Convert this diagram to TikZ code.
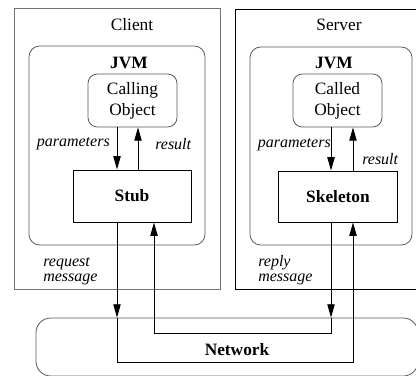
\documentclass[tikz,border=0pt]{standalone}
\usepackage{fontspec}
\setmainfont{Liberation Serif}
\usetikzlibrary{arrows.meta}
\begin{document}
\begin{tikzpicture}[x=0.75pt,y=-0.75pt,
  txt/.style={inner sep=0pt, font=\fontsize{13}{15.75}\selectfont},
  bold/.style={txt, font=\fontsize{13}{15.75}\selectfont\bfseries},
  lbl/.style={inner sep=0pt, font=\fontsize{12}{14}\selectfont\itshape},
  hostframe/.style={draw=black!55, line width=0.6pt},
  jvmbox/.style={draw=black!65, line width=0.6pt, rounded corners=8pt, inner sep=0pt},
  objbox/.style={draw=black!65, line width=0.6pt, rounded corners=7pt, inner sep=0pt, align=center,
                 font=\fontsize{13}{15.75}\selectfont},
  proxy/.style={draw, line width=0.7pt, inner sep=0pt, font=\fontsize{13}{15.75}\selectfont\bfseries},
  arr/.style={-{Triangle[length=10pt,width=5.5pt]}, line width=0.7pt},
  wire/.style={line width=0.7pt}]
\useasboundingbox (0,0) rectangle (416,375);
\fill[white] (0,0) rectangle (416,375);
\clip (0,0) rectangle (416,375);

% host machines
\node[hostframe, minimum width=154.5pt, minimum height=210.75pt] (client) at (117,148.5) {};
\draw[line width=0.7pt] (418,9) -- (235,9) -- (235,289) -- (418,289);
\node[txt] (clientlbl) at (132,25) {Client};
\node[txt] (serverlbl) at (339,25) {Server};

% virtual machines
\node[jvmbox, minimum width=132pt, minimum height=149.25pt] (cjvm) at (117,145.5) {};
\node[jvmbox, minimum width=121.5pt, minimum height=148.5pt] (sjvm) at (331,146) {};
\node[bold] (cjvmlbl) at (129,63) {JVM};
\node[bold] (sjvmlbl) at (334,63) {JVM};

% objects
\node[objbox, minimum width=66.75pt, minimum height=39.75pt] (calling) at (132.5,100.5) {Calling\\Object};
\node[objbox, minimum width=66.75pt, minimum height=39.75pt] (called) at (337.5,100.5) {Called\\Object};
\node[proxy, minimum width=88.5pt, minimum height=39pt] (stub) at (132,196) {Stub};
\node[proxy, minimum width=89.25pt, minimum height=38.25pt] (skel) at (338,196.5) {Skeleton};

% network
\node[jvmbox, rounded corners=11pt, minimum width=286.5pt, minimum height=43.5pt] (net) at (227,347) {};
\node[bold] (netlbl) at (237,350) {Network};

% local calls
\coordinate (cdn) at (117,0);
\coordinate (cup) at (138,0);
\coordinate (sdn) at (331,0);
\coordinate (sup) at (353,0);
\draw[arr] (calling.south -| cdn) -- (stub.north -| cdn);
\draw[arr] (stub.north -| cup) -- (calling.south -| cup);
\draw[arr] (called.south -| sdn) -- (skel.north -| sdn);
\draw[arr] (skel.north -| sup) -- (called.south -| sup);
\node[lbl, anchor=east] (cpar) at (110,144) {parameters};
\node[lbl, anchor=west] (cres) at (155,144) {result};
\node[lbl, anchor=east] (spar) at (331,145) {parameters};
\node[lbl, anchor=west] (sres) at (362,159) {result};

% request message: stub -> network -> skeleton
\coordinate (rq) at (117,362);
\coordinate (rqend) at (353,362);
\draw[arr] (stub.south -| rq) -- (net.north -| rq);
\draw[arr] (net.north -| rq) -- (rq) -- (rqend) -- (skel.south -| rqend);

% reply message: skeleton -> network -> stub
\coordinate (rp) at (331,333);
\coordinate (rpend) at (154,333);
\draw[arr] (skel.south -| rp) -- (net.north -| rp);
\draw[arr] (net.north -| rp) -- (rp) -- (rpend) -- (stub.south -| rpend);

\node[lbl, anchor=base west] (req1) at (43,266) {request};
\node[lbl, anchor=base west] (req2) at (43,281) {message};
\node[lbl, anchor=base west] (rep1) at (258,266) {reply};
\node[lbl, anchor=base west] (rep2) at (258,281) {message};
\end{tikzpicture}
\end{document}
